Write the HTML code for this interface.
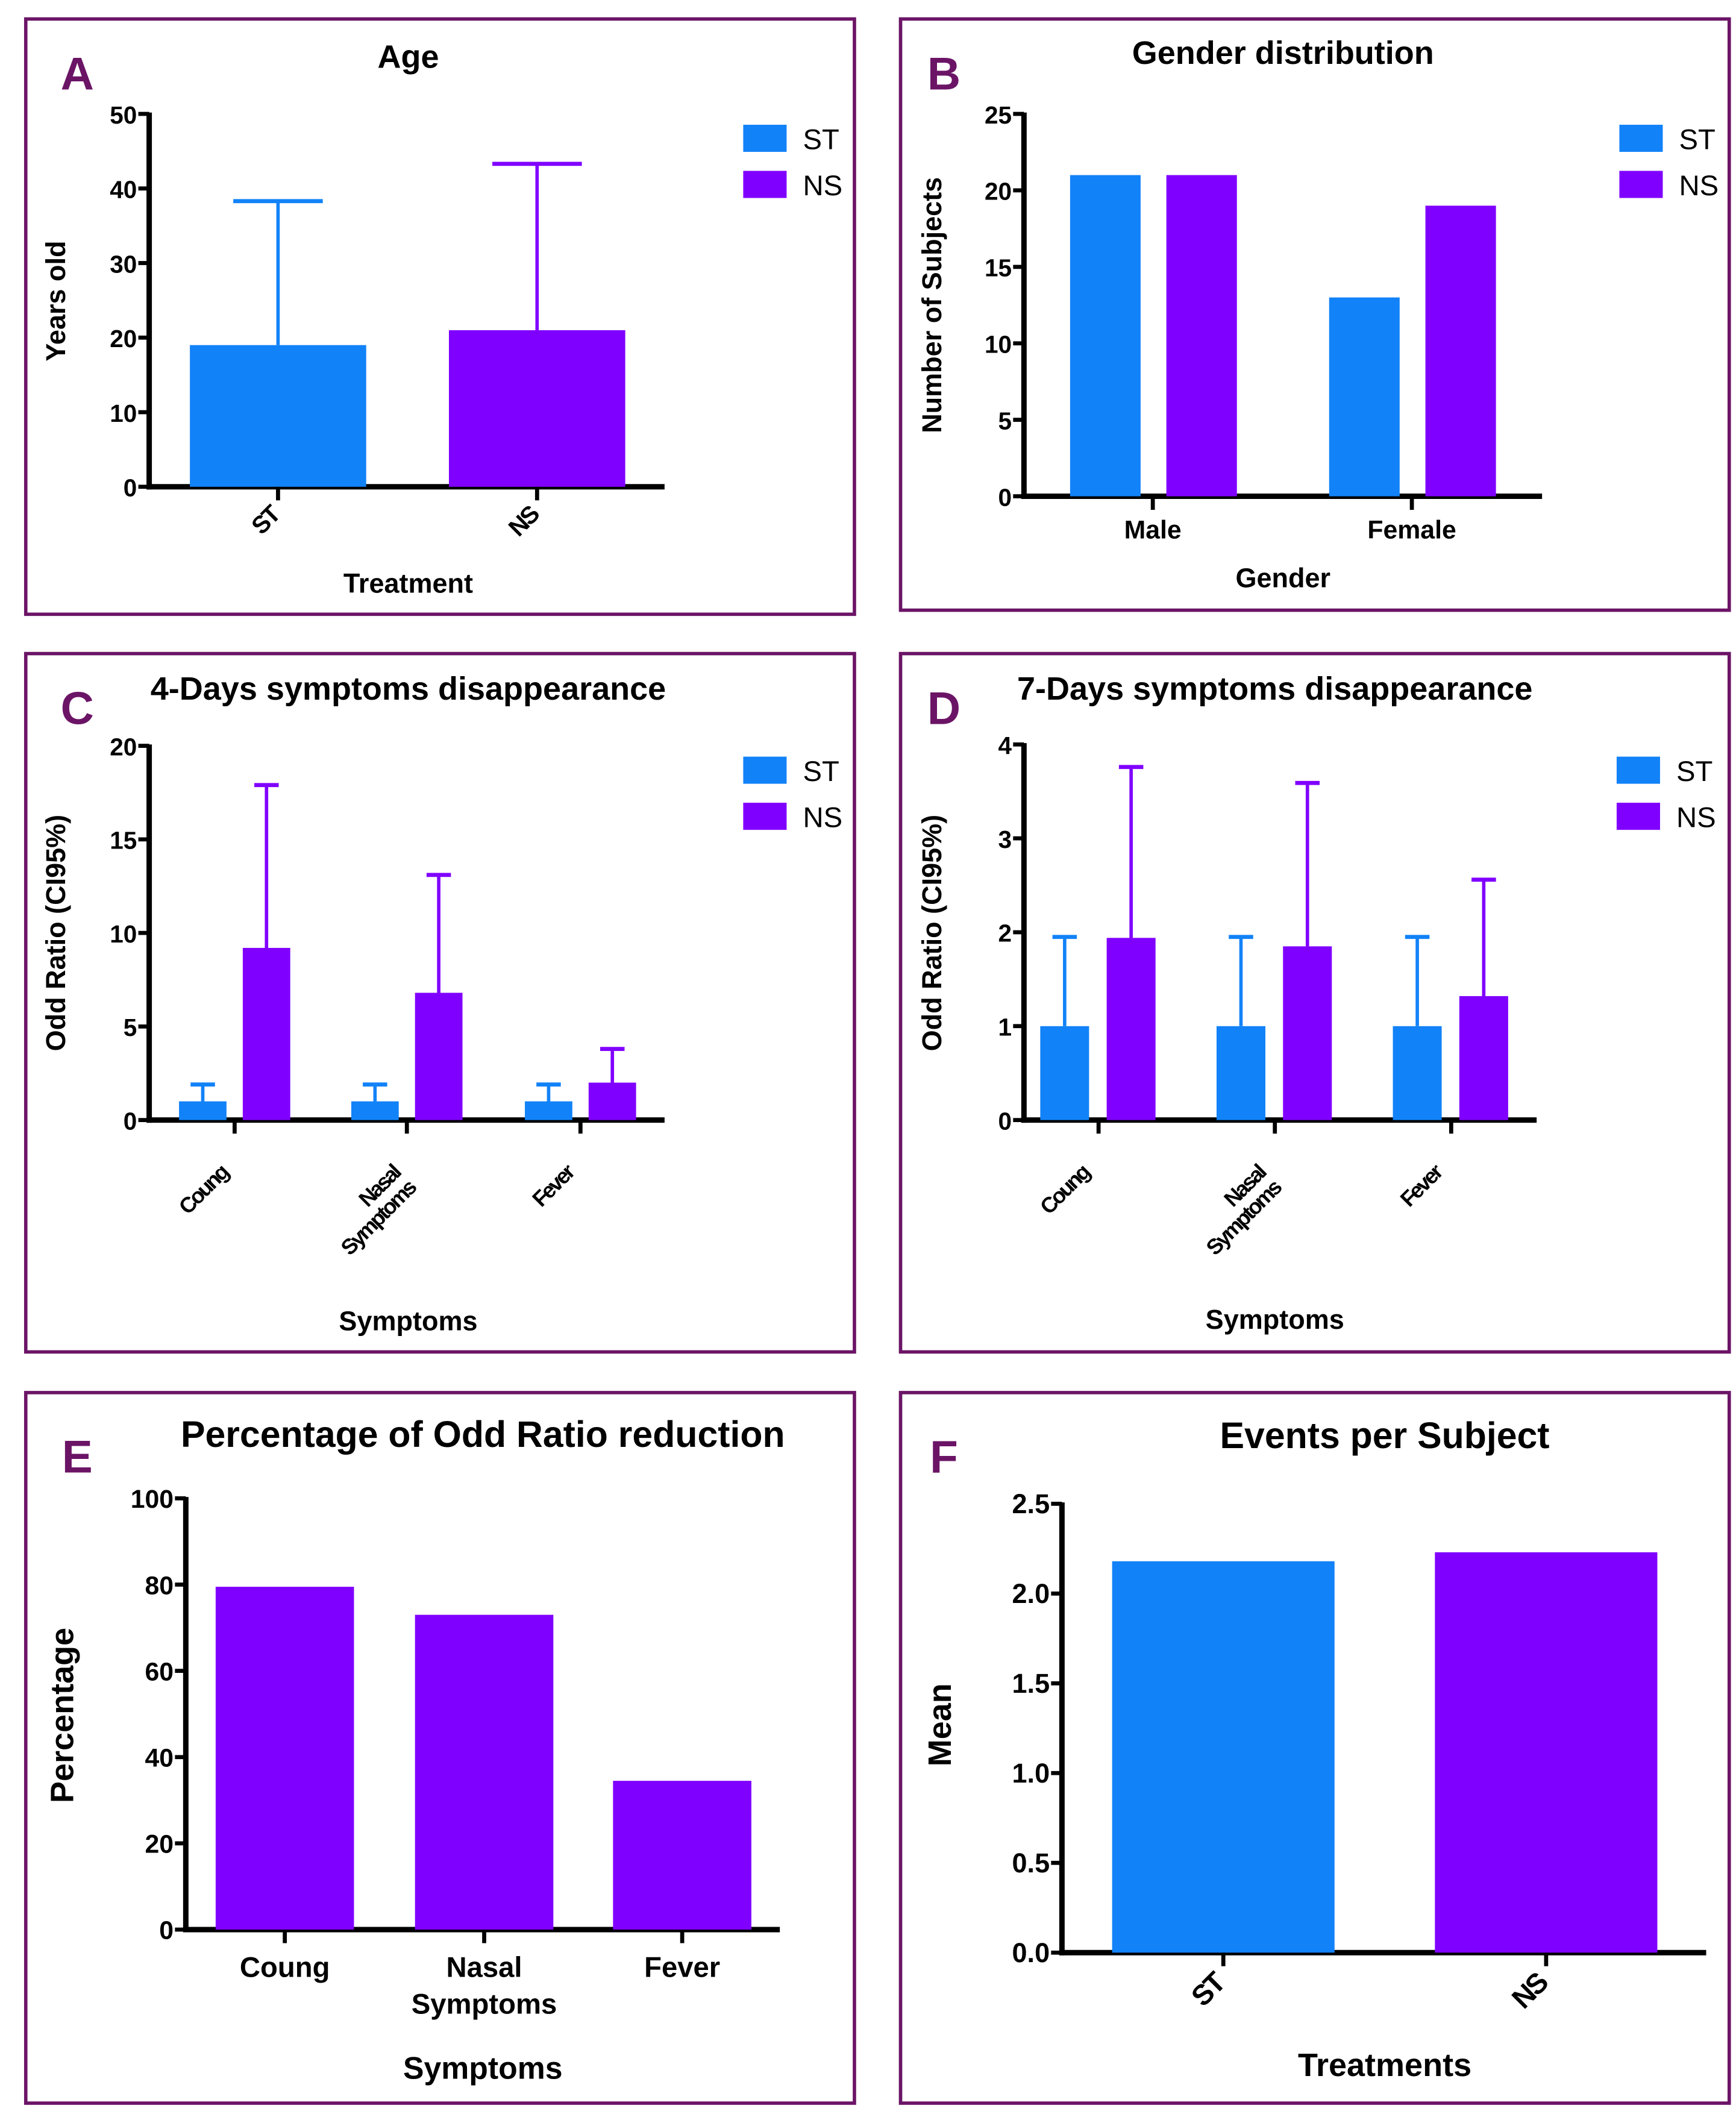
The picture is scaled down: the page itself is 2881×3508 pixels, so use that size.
<!DOCTYPE html>
<html><head><meta charset="utf-8"><style>
html,body{margin:0;padding:0;background:#fff;}
svg{display:block;}
text{font-family:"Liberation Sans",sans-serif;font-weight:bold;}
</style></head><body>
<svg id="fig" width="2881" height="3508" viewBox="0 0 1280 1559" preserveAspectRatio="none" xmlns="http://www.w3.org/2000/svg"></svg>
<script>
// Panel A
const ageCats = ["ST","NS"];
const ageMeans = [19, 21];
const ageErr = [38.3, 43.3];
const ageTicks = [0,10,20,30,40,50];
// Panel B
const genderCats = ["Male","Female"];
const genderST = [21, 13];
const genderNS = [21, 19];
const genderTicks = [0,5,10,15,20,25];
// Panel C
const sympCats = ["Coung","Nasal|Symptoms","Fever"];
const c4ST = [1.0, 1.0, 1.0];
const c4STerr = [1.9, 1.9, 1.9];
const c4NS = [9.2, 6.8, 2.0];
const c4NSerr = [17.9, 13.1, 3.8];
const c4Ticks = [0,5,10,15,20];
// Panel D
const d7ST = [1.0, 1.0, 1.0];
const d7STerr = [1.95, 1.95, 1.95];
const d7NS = [1.94, 1.85, 1.32];
const d7NSerr = [3.76, 3.59, 2.56];
const d7Ticks = [0,1,2,3,4];
// Panel E
const redCats = ["Coung","Nasal|Symptoms","Fever"];
const redVals = [79.5, 73, 34.5];
const redTicks = [0,20,40,60,80,100];
// Panel F
const evCats = ["ST","NS"];
const evVals = [2.18, 2.23];
const evTicks = ["0.0","0.5","1.0","1.5","2.0","2.5"];

const BLUE="#1282f8", PURP="#8000ff", BORDER="#6b1466";
const svg=document.getElementById('fig');
const NS_="http://www.w3.org/2000/svg";
function el(tag,attrs,parent,txt){const e=document.createElementNS(NS_,tag);for(const k in attrs)e.setAttribute(k,attrs[k]);if(txt!==undefined)e.textContent=txt;(parent||svg).appendChild(e);return e;}
function scale(v,max,y0,y1){return y0-(v/max)*(y0-y1);}

function panel(name,x,y,w,h,letter,lx,ly,title,tx,ty,tsize){
  const g=el('g',{});
  
  
  const r=el('rect',{x:x,y:y,width:w,height:h,fill:'none',stroke:BORDER,'stroke-width':2.5},g);
  
  
  const l=el('text',{x:lx,y:ly,'font-size':34,fill:BORDER,'text-anchor':'middle'},g,letter);
  
  
  const t=el('text',{x:tx,y:ty,'font-size':tsize||24,'text-anchor':'middle'},g,title);
  
  
  return g;
}
function axes(g,ax,y0,y1,x1,ticks,max,ytitle,ytx,yty,fs,yfs){
  const ya=el('line',{x1:ax,y1:y1-1,x2:ax,y2:y0+2,stroke:'#000','stroke-width':4},g);
  
  
  const xa=el('line',{x1:ax-2,y1:y0,x2:x1,y2:y0,stroke:'#000','stroke-width':4},g);
  
  
  ticks.forEach(t=>{
    const yy=scale(parseFloat(t),max,y0,y1);
    el('line',{x1:ax-8,y1:yy,x2:ax,y2:yy,stroke:'#000','stroke-width':3},g);
    const tl=el('text',{x:ax-9,y:yy+7,'font-size':fs||18,'text-anchor':'end'},g,String(t));
    
    
  });
  const yt=el('text',{x:ytx,y:yty,'font-size':yfs||20,'text-anchor':'middle',transform:`rotate(-90 ${ytx} ${yty})`},g,ytitle);
  
  
}
function bar(g,x,w,v,max,y0,y1,color,name){
  const top=scale(v,max,y0,y1);
  const b=el('rect',{x:x,y:top,width:w,height:y0-top,fill:color},g);
  
  
  return top;
}
function errbar(g,cx,top,e,max,y0,y1,color,cap){
  const ye=scale(e,max,y0,y1);
  const l=el('line',{x1:cx,y1:top,x2:cx,y2:ye,stroke:color,'stroke-width':2.5},g);
  
  
  el('line',{x1:cx-cap,y1:ye,x2:cx+cap,y2:ye,stroke:color,'stroke-width':3},g);
}
function xtick(g,x,y0){el('line',{x1:x,y1:y0,x2:x,y2:y0+10,stroke:'#000','stroke-width':3},g);}
function legend(g,x,y){
  [["ST",BLUE],["NS",PURP]].forEach((d,i)=>{
    const s=el('rect',{x:x,y:y+i*34,width:32,height:20,fill:d[1]},g);
    
    
    const t=el('text',{x:x+44,y:y+i*34+18,'font-size':21},g,d[0]);
    t.style.fontWeight='normal';
    
    
  });
}
function rotLabel(g,x,y,txt,fs){
  const lines=txt.split('|');
  const t=el('text',{x:x,y:y,'font-size':fs,'text-anchor':'end',transform:`rotate(-45 ${x} ${y})`,'letter-spacing':-1.5},g);
  lines.forEach((s,i)=>{el('tspan',{x:x,dy:i?fs:0},t,s);});
  
  
}
function xTitle(g,x,y,txt,fs){
  const t=el('text',{x:x,y:y,'font-size':fs||20,'text-anchor':'middle'},g,txt);
  
  
}

// ---- A
{const g=panel('panel-age',19,14,611,439,'A',57,66,'Age',301,50);
 const y0=359,y1=84,max=50;
 axes(g,110,y0,y1,490,ageTicks,max,'Years old',48,222);
 const xs=[140,331],w=130;
 ageCats.forEach((c,i)=>{const col=i?PURP:BLUE;
   const top=bar(g,xs[i],w,ageMeans[i],max,y0,y1,col,'bar-age-'+c.toLowerCase());
   errbar(g,xs[i]+w/2,top,ageErr[i],max,y0,y1,col,33);
   xtick(g,xs[i]+w/2,y0);rotLabel(g,xs[i]+w/2+2,y0+22,c,18);});
 xTitle(g,301,437,'Treatment');legend(g,548,92);}

// ---- B
{const g=panel('panel-gender',664,14,611,436,'B',696,66,'Gender distribution',946,47);
 const y0=366,y1=84,max=25;
 axes(g,755,y0,y1,1137,genderTicks,max,'Number of Subjects',694,225);
 const cen=[850,1041];
 genderCats.forEach((c,i)=>{
   bar(g,cen[i]-61,52,genderST[i],max,y0,y1,BLUE,'bar-'+c.toLowerCase()+'-st');
   bar(g,cen[i]+10,52,genderNS[i],max,y0,y1,PURP,'bar-'+c.toLowerCase()+'-ns');
   xtick(g,cen[i],y0);
   const t=el('text',{x:cen[i],y:397,'font-size':19,'text-anchor':'middle'},g,c);
   
   });
 xTitle(g,946,433,'Gender');legend(g,1194,92);}

// ---- C
{const g=panel('panel-4day',19,482,611,515,'C',57,534,'4-Days symptoms disappearance',301,516);
 const y0=826,y1=550,max=20;
 axes(g,110,y0,y1,490,c4Ticks,max,'Odd Ratio (CI95%)',48,688);
 const cen=[173,300,428];
 sympCats.forEach((c,i)=>{
   const t1=bar(g,cen[i]-41,35,c4ST[i],max,y0,y1,BLUE,'bar-4day-st-'+i);
   errbar(g,cen[i]-23.5,t1,c4STerr[i],max,y0,y1,BLUE,9);
   const t2=bar(g,cen[i]+6,35,c4NS[i],max,y0,y1,PURP,'bar-4day-ns-'+i);
   errbar(g,cen[i]+23.5,t2,c4NSerr[i],max,y0,y1,PURP,9);
   xtick(g,cen[i],y0);rotLabel(g,cen[i]-4,y0+40,c,16);});
 xTitle(g,301,981,'Symptoms');legend(g,548,558);}

// ---- D
{const g=panel('panel-7day',664,482,611,515,'D',696,534,'7-Days symptoms disappearance',940,516);
 const y0=826,y1=549,max=4;
 axes(g,755,y0,y1,1133,d7Ticks,max,'Odd Ratio (CI95%)',694,688);
 const cen=[810,940,1070];
 sympCats.forEach((c,i)=>{
   const t1=bar(g,cen[i]-43,36,d7ST[i],max,y0,y1,BLUE,'bar-7day-st-'+i);
   errbar(g,cen[i]-25,t1,d7STerr[i],max,y0,y1,BLUE,9);
   const t2=bar(g,cen[i]+6,36,d7NS[i],max,y0,y1,PURP,'bar-7day-ns-'+i);
   errbar(g,cen[i]+24,t2,d7NSerr[i],max,y0,y1,PURP,9);
   xtick(g,cen[i],y0);rotLabel(g,cen[i]-6,y0+40,c,16);});
 xTitle(g,940,980,'Symptoms');legend(g,1192,558);}

// ---- E
{const g=panel('panel-reduction',19,1027,611,524,'E',57,1086,'Percentage of Odd Ratio reduction',356,1067,27);
 const y0=1423,y1=1105,max=100;
 axes(g,137,y0,y1,575,redTicks,max,'Percentage',54,1265,19,24);
 const cen=[210,357,503];
 redCats.forEach((c,i)=>{
   bar(g,cen[i]-51,102,redVals[i],max,y0,y1,PURP,'bar-reduction-'+i);
   xtick(g,cen[i],y0);
   const t=el('text',{x:cen[i],y:1458,'font-size':21,'text-anchor':'middle'},g);
   c.split('|').forEach((s,k)=>el('tspan',{x:cen[i],dy:k?27:0},t,s));
   
   });
 xTitle(g,356,1533,'Symptoms',23);}

// ---- F
{const g=panel('panel-events',664,1027,611,524,'F',696,1086,'Events per Subject',1021,1068,27);
 const y0=1440,y1=1109,max=2.5;
 axes(g,783,y0,y1,1258,evTicks,max,'Mean',701,1272,20,24);
 const cen=[902,1140];
 evCats.forEach((c,i)=>{
   bar(g,cen[i]-82,164,evVals[i],max,y0,y1,i?PURP:BLUE,'bar-events-'+c.toLowerCase());
   xtick(g,cen[i],y0);rotLabel(g,cen[i]+2,y0+24,c,21);});
 xTitle(g,1021,1531,'Treatments',24);}
</script>
</body></html>
